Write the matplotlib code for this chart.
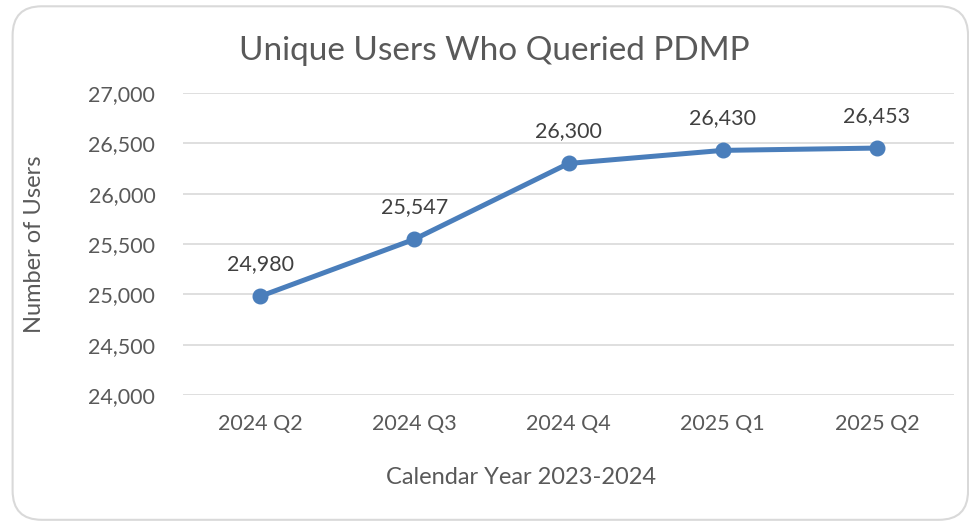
import matplotlib.pyplot as plt
from matplotlib.patches import FancyBboxPatch
from matplotlib.ticker import FuncFormatter

# Chart data
quarters = ["2024 Q2", "2024 Q3", "2024 Q4", "2025 Q1", "2025 Q2"]
users = [24980, 25547, 26300, 26430, 26453]
y_ticks = [24000, 24500, 25000, 25500, 26000, 26500, 27000]

plt.rcParams['font.family'] = ['Lato', 'DejaVu Sans']

fig = plt.figure(figsize=(9.7, 5.24), dpi=100)

# Rounded outer border like the Excel chart area
border = FancyBboxPatch((0.013, 0.008), 0.985, 0.98,
                        boxstyle="round,pad=0,rounding_size=0.03",
                        transform=fig.transFigure, facecolor='none',
                        edgecolor='#d9d9d9', linewidth=1.5, mutation_aspect=970 / 524,
                        zorder=-1)
fig.patches.append(border)

ax = fig.add_axes([0.1887, 0.2462, 0.7948, 0.5763])
ax.set_facecolor('none')

x = list(range(len(quarters)))
ax.plot(x, users, color='#4a7ebb', linewidth=3.6, marker='o', markersize=10.5,
        solid_capstyle='round', zorder=3)

for xi, v in zip(x, users):
    ax.annotate(f"{v:,}", (xi, v), xytext=(0, 16), textcoords='offset points',
                ha='center', va='bottom', fontsize=15.5, color='#404040')

ax.set_xlim(-0.5, len(quarters) - 0.5)
ax.set_ylim(24000, 27000)
ax.set_yticks(y_ticks)
ax.yaxis.set_major_formatter(FuncFormatter(lambda v, p: f"{int(v):,}"))
ax.set_xticks(x)
ax.set_xticklabels(quarters)

ax.grid(axis='y', color='#d9d9d9', linewidth=1.2)
ax.set_axisbelow(True)
for s in ax.spines.values():
    s.set_visible(False)
ax.tick_params(axis='both', length=0, labelsize=15.5, labelcolor='#595959')
ax.tick_params(axis='y', pad=20)
ax.tick_params(axis='x', pad=14)

fig.text(0.51, 0.903, "Unique Users Who Queried PDMP", ha='center', va='center',
         fontsize=24, color='#595959')
fig.text(0.537, 0.088, "Calendar Year 2023-2024", ha='center', va='center',
         fontsize=17, color='#595959')
fig.text(0.036, 0.534, "Number of Users", ha='center', va='center', rotation=90,
         fontsize=17, color='#595959')

fig.savefig("out.png", dpi=100)
